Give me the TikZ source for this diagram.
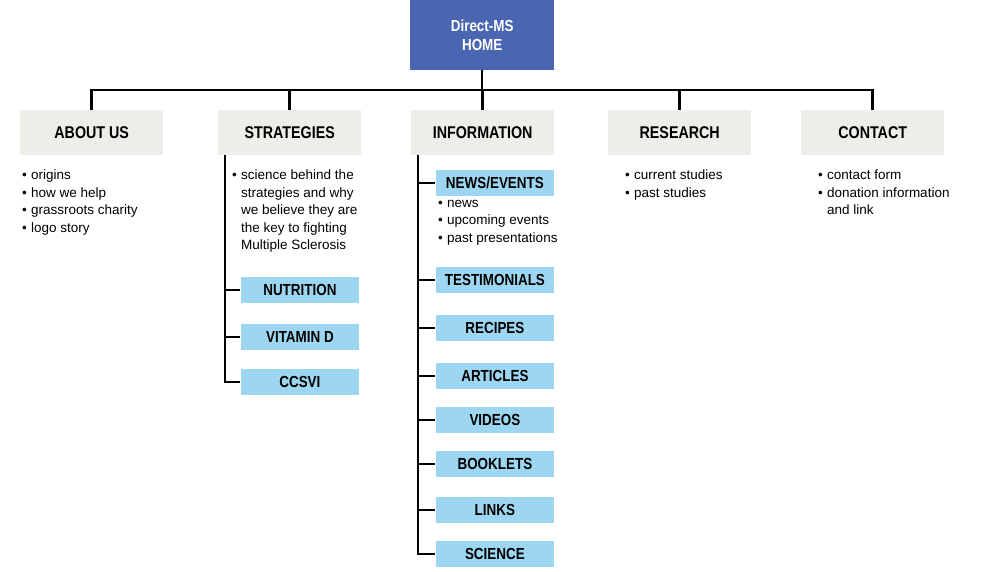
\documentclass[tikz,border=0pt]{standalone}
\usepackage{fontspec}
\setmainfont{Liberation Sans}
\newfontfamily\headfont[FakeStretch=0.84]{Liberation Sans Bold}
\usetikzlibrary{positioning}
\definecolor{homeblue}{HTML}{4A66B2}
\definecolor{subblue}{HTML}{9DD6F0}
\definecolor{topgray}{HTML}{EEEDE8}
\newcommand{\bul}{\makebox[9pt][l]{\textbullet}}
\newcommand{\cont}{\hspace*{9pt}}

\begin{document}
\begin{tikzpicture}[x=1pt, y=1pt,
homenode/.style={rectangle, fill=homeblue, text=white, font=\headfont\fontsize{16}{19}\selectfont, align=center, minimum width=144pt, minimum height=70pt, anchor=north west},
topnode/.style={rectangle, fill=topgray, font=\headfont\fontsize{17}{20}\selectfont, minimum width=143pt, minimum height=45pt, anchor=north west},
subnode/.style={rectangle, fill=subblue, draw=white, line width=0.8pt, font=\headfont\fontsize{16}{19}\selectfont, minimum width=119pt, minimum height=27pt, anchor=west},
listnode/.style={anchor=north west, align=left, inner sep=0pt, font=\fontsize{13.5}{17.5}\selectfont},
conn/.style={line width=2.5pt},
]
\useasboundingbox (0,0) rectangle (1000,-572);
%Nodes
\node[homenode] (home) at (410,0) {Direct-MS\\HOME};
\node[topnode] (about) at (20,-110) {ABOUT US};
\node[topnode] (strat) at (218,-110) {STRATEGIES};
\node[topnode] (info) at (411,-110) {INFORMATION};
\node[topnode] (research) at (608,-110) {RESEARCH};
\node[topnode] (contact) at (801,-110) {CONTACT};

\node[listnode] (aboutlist) at (22,-170) {\bul origins\\\bul how we help\\\bul grassroots charity\\\bul logo story};
\node[listnode] (stratlist) at (232,-170) {\bul science behind the\\\cont strategies and why\\\cont we believe they are\\\cont the key to fighting\\\cont Multiple Sclerosis};
\node[listnode] (researchlist) at (625,-170) {\bul current studies\\\bul past studies};
\node[listnode] (contactlist) at (818,-170) {\bul contact form\\\bul donation information\\\cont and link};

\node[subnode] (nutrition) at (240,-290) {NUTRITION};
\node[subnode] (vitd) at (240,-337) {VITAMIN D};
\node[subnode] (ccsvi) at (240,-382) {CCSVI};

\node[subnode] (news) at (435,-183) {NEWS/EVENTS};
\node[listnode] (newslist) at (438,-200) {\bul news\\\bul upcoming events\\\bul past presentations};
\node[subnode] (testim) at (435,-280) {TESTIMONIALS};
\node[subnode] (recipes) at (435,-328) {RECIPES};
\node[subnode] (articles) at (435,-376) {ARTICLES};
\node[subnode] (videos) at (435,-420) {VIDEOS};
\node[subnode] (booklets) at (435,-464) {BOOKLETS};
\node[subnode] (links) at (435,-510) {LINKS};
\node[subnode] (science) at (435,-554) {SCIENCE};

%Lines
\coordinate (bar) at (0,-90);
\draw[conn] (home.south) -- (home.south |- bar);
\draw[conn] (about.north) -- (about.north |- bar) -- (contact.north |- bar) -- (contact.north);
\foreach \n in {strat, info, research}
  \draw[conn] (\n.north) -- (\n.north |- bar);

\coordinate (sv) at (225,-155);
\foreach \n in {nutrition, vitd, ccsvi}
  \draw[conn] (sv) |- (\n.west);
\coordinate (iv) at (418,-155);
\foreach \n in {news, testim, recipes, articles, videos, booklets, links, science}
  \draw[conn] (iv) |- (\n.west);
\end{tikzpicture}
\end{document}
